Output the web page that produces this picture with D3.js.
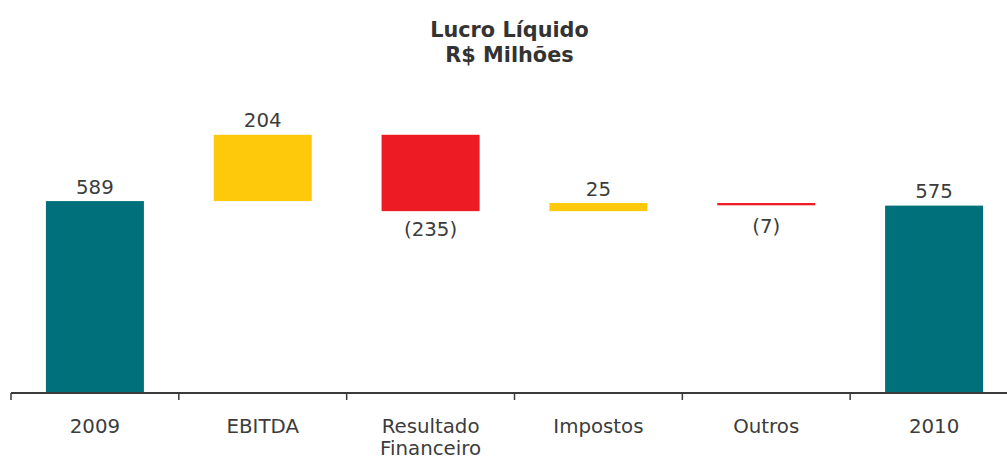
<!DOCTYPE html>
<html>
<head>
<meta charset="utf-8">
<script src="https://cdn.jsdelivr.net/npm/d3@7"></script>
<style>
  html, body { margin: 0; padding: 0; background: #fff; }
  svg { display: block; }
</style>
</head>
<body>
<div id="chart"></div>
<script>
(function () {
  'use strict';

  // data
  var categories = ['2009', 'EBITDA', 'Resultado Financeiro', 'Impostos', 'Outros', '2010'];
  var values = [589, 204, -235, 25, -7, 575];
  var kinds = ['total', 'delta', 'delta', 'delta', 'delta', 'total'];
  var valueLabels = ['589', '204', '(235)', '25', '(7)', '575'];
  var titleLines = ['Lucro Líquido', 'R$ Milhões'];

  var width = 1007, height = 460;
  var textColor = '#3c3c3c';
  var colors = { total: '#00717b', up: '#ffc90b', down: '#ed1c24' };
  var labelFont = '19.8px';

  // waterfall steps
  var running = 0;
  var steps = values.map(function (v, i) {
    var from, to;
    if (kinds[i] === 'total') {
      from = 0; to = v; running = v;
    } else {
      from = running; to = running + v; running = to;
    }
    return {
      cat: categories[i],
      lo: Math.min(from, to),
      hi: Math.max(from, to),
      kind: kinds[i] === 'total' ? 'total' : (v >= 0 ? 'up' : 'down'),
      label: valueLabels[i]
    };
  });

  var svg = d3.select('#chart').append('svg')
    .attr('width', width)
    .attr('height', height);

  var x = d3.scaleBand()
    .domain(categories)
    .range([11, 1018])
    .paddingInner(0.416)
    .paddingOuter(0.208);

  var y = d3.scaleLinear()
    .domain([0, 900])
    .range([392.5, 100]);

  // title
  var title = svg.append('text')
    .attr('x', 509.5)
    .attr('text-anchor', 'middle')
    .style('font-family', '"DejaVu Sans", Verdana, sans-serif')
    .style('font-weight', 'bold')
    .style('font-size', '20.8px')
    .attr('fill', '#333');
  titleLines.forEach(function (t, i) {
    title.append('tspan').attr('x', 509.5).attr('y', 36.5 + i * 25).text(t);
  });

  // bars
  svg.selectAll('rect.bar')
    .data(steps)
    .enter()
    .append('rect')
    .attr('class', 'bar')
    .attr('x', function (d) { return x(d.cat); })
    .attr('width', x.bandwidth())
    .attr('y', function (d) { return y(d.hi); })
    .attr('height', function (d) { return Math.max(1.5, y(d.lo) - y(d.hi)); })
    .attr('fill', function (d) { return colors[d.kind]; });

  // value labels: above for increases/totals, below for decreases
  svg.selectAll('text.val')
    .data(steps)
    .enter()
    .append('text')
    .attr('class', 'val')
    .attr('x', function (d) { return x(d.cat) + x.bandwidth() / 2; })
    .attr('y', function (d) {
      if (d.kind === 'down') return Math.max(y(d.lo) + 24.5, y(d.hi) + 30);
      return y(d.hi) - 7.5;
    })
    .attr('text-anchor', 'middle')
    .style('font-family', '"DejaVu Sans", Verdana, sans-serif')
    .style('font-size', labelFont)
    .attr('fill', textColor)
    .text(function (d) { return d.label; });

  // axis: baseline plus boundary ticks
  var axisY = 393;
  var step = x.step();
  var halfGap = step * x.paddingInner() / 2;
  svg.append('line')
    .attr('x1', 11).attr('x2', width)
    .attr('y1', axisY).attr('y2', axisY)
    .attr('stroke', '#3a3a3a')
    .attr('stroke-width', 2);

  svg.selectAll('line.tick')
    .data(categories)
    .enter()
    .append('line')
    .attr('class', 'tick')
    .attr('x1', function (d) { return x(d) - halfGap; })
    .attr('x2', function (d) { return x(d) - halfGap; })
    .attr('y1', axisY)
    .attr('y2', axisY + 7)
    .attr('stroke', '#3a3a3a')
    .attr('stroke-width', 1.5);

  // category labels (wrap on space for two-word names)
  var cats = svg.selectAll('text.cat')
    .data(categories)
    .enter()
    .append('text')
    .attr('class', 'cat')
    .attr('text-anchor', 'middle')
    .style('font-family', '"DejaVu Sans", Verdana, sans-serif')
    .style('font-size', labelFont)
    .attr('fill', textColor);

  cats.each(function (d) {
    var cx = x(d) + x.bandwidth() / 2;
    var words = d.split(' ');
    var t = d3.select(this);
    words.forEach(function (w, i) {
      t.append('tspan').attr('x', cx).attr('y', 433 + i * 22).text(w);
    });
  });
})();
</script>
</body>
</html>
